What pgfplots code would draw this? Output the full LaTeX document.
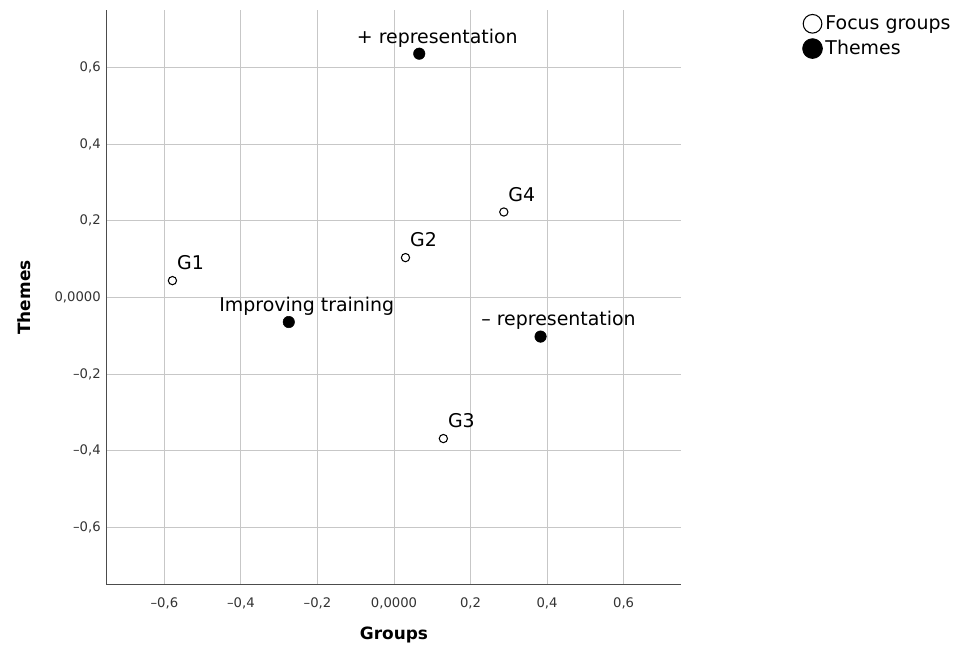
\documentclass[border=0pt]{standalone}
\usepackage{fontspec}
\setmainfont{DejaVu Sans}
\usepackage{pgfplots}
\pgfplotsset{compat=1.18}
\newcommand{\lblfont}{\fontsize{14.2}{17}\selectfont}
\newcommand{\tickfont}{\fontsize{9.9}{12}\selectfont}
\begin{document}
\begin{tikzpicture}
\useasboundingbox (-80.25pt,-47.25pt) rectangle (640.5pt,438.75pt);
\begin{axis}[
  at={(0pt,0pt)}, anchor=south west,
  scale only axis, width=430.5pt, height=431.25pt,
  xmin=-0.75, xmax=0.75, ymin=-0.75, ymax=0.75,
  axis lines*=left,
  axis line style={-, black!70, line width=0.75pt},
  major tick length=0pt,
  tick style={draw=none},
  grid=major,
  grid style={black!22, line width=0.75pt},
  xtick={-0.6,-0.4,-0.2,0,0.2,0.4,0.6},
  xticklabels={{–0,6},{–0,4},{–0,2},{0,0000},{0,2},{0,4},{0,6}},
  ytick={-0.6,-0.4,-0.2,0,0.2,0.4,0.6},
  yticklabels={{–0,6},{–0,4},{–0,2},{0,0000},{0,2},{0,4},{0,6}},
  ticklabel style={font=\tickfont, text=black!80},
  xticklabel style={anchor=center, yshift=-13.5pt},
  yticklabel style={anchor=east, inner xsep=0pt, xshift=-4.5pt},
  xlabel={\textbf{Groups}},
  ylabel={\textbf{Themes}},
  label style={font=\fontsize{12.7}{15}\selectfont},
  xlabel style={at={(axis description cs:0.5,0)}, anchor=center, yshift=-37.5pt},
  ylabel style={at={(axis description cs:0,0.5)}, anchor=center, yshift=62.25pt},
  legend style={at={(rel axis cs:1.2108,0.9948)}, anchor=north west, draw=none, fill=none,
    font=\lblfont, inner sep=0pt, row sep=2.5pt,
    cells={anchor=west, inner xsep=0pt},
    /tikz/every even column/.append style={column sep=0pt}},
  nodes near coords,
  point meta=explicit symbolic,
  every node near coord/.append style={font=\lblfont, anchor=base, xshift=13.5pt, yshift=8pt, inner sep=0pt, text=black},
]
\addplot[only marks, mark=*, mark size=3.1pt, mark options={draw=black, fill=white, line width=0.8pt},
  legend image code/.code={\draw[line width=0.8pt, fill=white] (7.5pt,0pt) circle (7pt);}]
  coordinates {
    (-0.579,0.044) [G1]
    (0.030,0.104) [G2]
    (0.129,-0.368) [G3]
    (0.287,0.223) [G4]
  };
\addlegendentry{Focus groups}
\addplot[only marks, mark=*, mark size=4.3pt, mark options={draw=black, fill=black},
  legend image code/.code={\fill[black] (7.5pt,0pt) circle (7.5pt);}]
  coordinates {
    (0.066,0.636) [+ representation]
    (-0.275,-0.064) [Improving training]
    (0.383,-0.102) [– representation]
  };
\addlegendentry{Themes}
\end{axis}
\end{tikzpicture}
\end{document}
